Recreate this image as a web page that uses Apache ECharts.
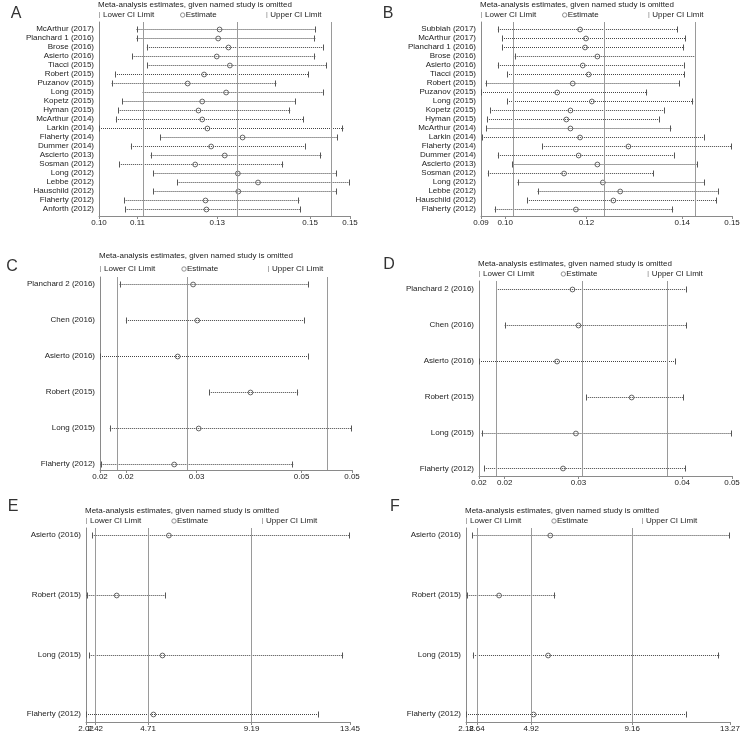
<!DOCTYPE html>
<html><head><meta charset="utf-8">
<script src="https://cdn.jsdelivr.net/npm/echarts@6/dist/echarts.min.js"></script>
<style>html,body{margin:0;padding:0;background:#fff}#c{width:744px;height:735px}</style>
</head><body><div id="c"></div>
<script>
// ---------- Data ----------
const namesA = ['McArthur (2017)','Planchard 1 (2016)','Brose (2016)','Asierto (2016)','Tiacci (2015)','Robert (2015)','Puzanov (2015)','Long (2015)','Kopetz (2015)','Hyman (2015)','McArthur (2014)','Larkin (2014)','Flaherty (2014)','Dummer (2014)','Ascierto (2013)','Sosman (2012)','Long (2012)','Lebbe (2012)','Hauschild (2012)','Flaherty (2012)','Anforth (2012)'];
const lowerA = [0.1085,0.1085,0.1107,0.1076,0.1108,0.1039,0.1032,0.1098,0.1055,0.1046,0.1041,0.1005,0.1136,0.1073,0.1115,0.1048,0.1121,0.1172,0.1121,0.1059,0.1061];
const estA   = [0.1262,0.1259,0.1281,0.1256,0.1284,0.1229,0.1194,0.1276,0.1225,0.1217,0.1225,0.1236,0.1311,0.1244,0.1273,0.1210,0.1301,0.1344,0.1302,0.1232,0.1234];
const upperA = [0.1468,0.1466,0.1485,0.1466,0.1491,0.1452,0.1383,0.1485,0.1424,0.1413,0.1442,0.1526,0.1515,0.1446,0.1479,0.1398,0.1512,0.1540,0.1512,0.1432,0.1435];
const ticksA = [0.1005,0.1087,0.1257,0.1455,0.1540];

const namesB = ['Subbiah (2017)','McArthur (2017)','Planchard 1 (2016)','Brose (2016)','Asierto (2016)','Tiacci (2015)','Robert (2015)','Puzanov (2015)','Long (2015)','Kopetz (2015)','Hyman (2015)','McArthur (2014)','Larkin (2014)','Flaherty (2014)','Dummer (2014)','Ascierto (2013)','Sosman (2012)','Long (2012)','Lebbe (2012)','Hauschild (2012)','Flaherty (2012)'];
const lowerB = [0.0967,0.0976,0.0976,0.1004,0.0967,0.0987,0.0940,0.0930,0.0987,0.0950,0.0943,0.0942,0.0932,0.1064,0.0967,0.0999,0.0945,0.1010,0.1054,0.1031,0.0960];
const estB   = [0.1147,0.1160,0.1158,0.1185,0.1153,0.1166,0.1131,0.1097,0.1173,0.1126,0.1117,0.1126,0.1147,0.1253,0.1144,0.1185,0.1112,0.1197,0.1235,0.1220,0.1138];
const upperB = [0.1361,0.1379,0.1375,0.1401,0.1377,0.1377,0.1366,0.1294,0.1395,0.1333,0.1322,0.1347,0.1421,0.1480,0.1355,0.1406,0.1308,0.1421,0.1452,0.1447,0.1351];
const ticksB = [0.0930,0.0983,0.1161,0.1371,0.1480];

const namesC = ['Planchard 2 (2016)','Chen (2016)','Asierto (2016)','Robert (2015)','Long (2015)','Flaherty (2012)'];
const lowerC = [0.0203,0.0212,0.0175,0.0331,0.0189,0.0176];
const estC   = [0.0308,0.0314,0.0286,0.0390,0.0316,0.0281];
const upperC = [0.0474,0.0468,0.0474,0.0458,0.0535,0.0451];
const ticksC = [0.0175,0.0212,0.0313,0.0463,0.0535];

const namesD = ['Planchard 2 (2016)','Chen (2016)','Asierto (2016)','Robert (2015)','Long (2015)','Flaherty (2012)'];
const lowerD = [0.0200,0.0210,0.0180,0.0305,0.0183,0.0186];
const estD   = [0.0289,0.0296,0.0271,0.0358,0.0293,0.0278];
const upperD = [0.0422,0.0422,0.0410,0.0419,0.0475,0.0421];
const ticksD = [0.0180,0.0210,0.0296,0.0417,0.0475];

const namesE = ['Asierto (2016)','Robert (2015)','Long (2015)','Flaherty (2012)'];
const lowerE = [2.29,2.05,2.16,2.02];
const estE   = [5.61,3.35,5.33,4.94];
const upperE = [13.45,5.47,13.16,12.11];
const ticksE = [2.02,2.42,4.71,9.19,13.45];

const namesF = ['Asierto (2016)','Robert (2015)','Long (2015)','Flaherty (2012)'];
const lowerF = [2.45,2.21,2.47,2.18];
const estF   = [5.72,3.57,5.63,5.02];
const upperF = [13.27,5.93,12.82,11.45];
const ticksF = [2.18,2.64,4.92,9.16,13.27];

const titleText = 'Meta-analysis estimates, given named study is omitted';

// ---------- Layout ----------
const panels = [
  {letter:'A', names:namesA, lower:lowerA, est:estA, upper:upperA, ticks:ticksA,
   left:99, right:350, top:22, bottom:216, yMin:-0.8, yMax:20.8, titleY:5, legendY:15, lx:16, ly:14},
  {letter:'B', names:namesB, lower:lowerB, est:estB, upper:upperB, ticks:ticksB,
   left:481, right:732, top:22, bottom:216, yMin:-0.8, yMax:20.8, titleY:5, legendY:15, lx:388, ly:14},
  {letter:'C', names:namesC, lower:lowerC, est:estC, upper:upperC, ticks:ticksC,
   left:100, right:352, top:277, bottom:470, yMin:-0.2, yMax:5.17, titleY:256, legendY:269, lx:12, ly:267},
  {letter:'D', names:namesD, lower:lowerD, est:estD, upper:upperD, ticks:ticksD,
   left:479, right:732, top:281, bottom:476, yMin:-0.22, yMax:5.21, titleY:264, legendY:274, lx:389, ly:265},
  {letter:'E', names:namesE, lower:lowerE, est:estE, upper:upperE, ticks:ticksE,
   left:86, right:350, top:528, bottom:722, yMin:-0.12, yMax:3.13, titleY:511, legendY:521, lx:13, ly:507},
  {letter:'F', names:namesF, lower:lowerF, est:estF, upper:upperF, ticks:ticksF,
   left:466, right:730, top:528, bottom:722, yMin:-0.12, yMax:3.13, titleY:511, legendY:521, lx:395, ly:507}
];

const FONT = 'Liberation Sans, Arial, Helvetica, sans-serif';
const AX = '#8a8a8a';

function renderItem(params, api) {
  const y = api.value(0);
  const lo = api.coord([api.value(1), y]);
  const es = api.coord([api.value(2), y]);
  const hi = api.coord([api.value(3), y]);
  const yy = Math.round(lo[1]) + 0.5;
  const c = '#555';
  return {type:'group', children:[
    {type:'line', shape:{x1:lo[0], y1:yy, x2:hi[0], y2:yy}, style:{stroke:'#444', lineWidth:1, lineDash:[1,1]}},
    {type:'line', shape:{x1:Math.round(lo[0])+0.5, y1:yy-3, x2:Math.round(lo[0])+0.5, y2:yy+3}, style:{stroke:c, lineWidth:1}},
    {type:'line', shape:{x1:Math.round(hi[0])-0.5, y1:yy-3, x2:Math.round(hi[0])-0.5, y2:yy+3}, style:{stroke:c, lineWidth:1}},
    {type:'circle', shape:{cx:es[0], cy:yy, r:2.4}, style:{fill:'#fff', fillOpacity:0, stroke:c, lineWidth:0.9}}
  ]};
}

const grid = [], xAxis = [], yAxis = [], series = [], graphic = [];
const labelStyle = {fontSize:8, fontFamily:FONT, color:'#222', margin:3, hideOverlap:false, showMinLabel:true, showMaxLabel:true,
                    formatter:v => Number(v).toFixed(2)};
panels.forEach((p, k) => {
  grid.push({left:p.left, top:p.top, width:p.right - p.left, height:p.bottom - p.top, outerBoundsMode:'none'});
  const mainTicks = p.ticks.filter((_, i) => i !== 1);
  xAxis.push({
    type:'value', gridIndex:k, min:p.ticks[0], max:p.ticks[p.ticks.length-1],
    axisLine:{show:true, onZero:false, lineStyle:{color:AX, width:1}},
    axisTick:{show:true, length:3, customValues:mainTicks, lineStyle:{color:AX}},
    axisLabel:Object.assign({customValues:mainTicks}, labelStyle),
    splitLine:{show:false}
  });
  const idx = p.names.map((_, i) => i);
  yAxis.push({
    type:'value', gridIndex:k, inverse:true, min:p.yMin, max:p.yMax,
    axisLine:{show:true, onZero:false, lineStyle:{color:AX, width:1}},
    axisTick:{show:false},
    axisLabel:{customValues:idx, formatter:v => p.names[Math.round(v)] || '', fontSize:8, fontFamily:FONT, color:'#222', margin:5},
    splitLine:{show:false}
  });
  series.push({
    type:'custom', xAxisIndex:k, yAxisIndex:k, renderItem, clip:false,
    encode:{x:[1,2,3], y:0},
    data:p.names.map((n, i) => [i, p.lower[i], p.est[i], p.upper[i]]),
    markLine:{
      silent:true, symbol:'none', animation:false,
      label:{show:false},
      lineStyle:{color:'#9a9a9a', type:'solid', width:1},
      data:[{xAxis:p.ticks[1]}, {xAxis:p.ticks[2]}, {xAxis:p.ticks[3]}]
    },
    z:3
  });
  const w = p.right - p.left;
  graphic.push({type:'text', x:p.lx, y:p.ly, style:{text:p.letter, fill:'#333', fontSize:16, fontFamily:FONT, fontWeight:'normal', align:'center', verticalAlign:'middle'}});
  graphic.push({type:'text', x:p.left - 1, y:p.titleY, style:{text:titleText, fill:'#222', fontSize:8, fontFamily:FONT, align:'left', verticalAlign:'middle'}});
  const ly = p.legendY;
  graphic.push({type:'line', shape:{x1:p.left + 0.5, y1:ly - 3, x2:p.left + 0.5, y2:ly + 3}, style:{stroke:'#aaa', lineWidth:1}});
  graphic.push({type:'text', x:p.left + 4, y:ly, style:{text:'Lower CI Limit', fill:'#222', fontSize:8, fontFamily:FONT, align:'left', verticalAlign:'middle'}});
  graphic.push({type:'circle', shape:{cx:p.left + w/3, cy:ly, r:2.2}, style:{fill:'none', stroke:'#777', lineWidth:0.8}});
  graphic.push({type:'text', x:p.left + w/3 + 3, y:ly, style:{text:'Estimate', fill:'#222', fontSize:8, fontFamily:FONT, align:'left', verticalAlign:'middle'}});
  graphic.push({type:'line', shape:{x1:p.left + 2*w/3 + 0.5, y1:ly - 3, x2:p.left + 2*w/3 + 0.5, y2:ly + 3}, style:{stroke:'#aaa', lineWidth:1}});
  graphic.push({type:'text', x:p.left + 2*w/3 + 4, y:ly, style:{text:'Upper CI Limit', fill:'#222', fontSize:8, fontFamily:FONT, align:'left', verticalAlign:'middle'}});
});
// second x axis per panel: carries only the overall lower-CI tick label, so it is never hidden by overlap
panels.forEach((p, k) => {
  xAxis.push({
    type:'value', gridIndex:k, position:'bottom', min:p.ticks[0], max:p.ticks[p.ticks.length-1],
    axisLine:{show:false, onZero:false},
    axisTick:{show:true, length:3, customValues:[p.ticks[1]], lineStyle:{color:AX}},
    axisLabel:Object.assign({}, labelStyle, {customValues:[p.ticks[1]], showMinLabel:false, showMaxLabel:false}),
    splitLine:{show:false}
  });
});

const chart = echarts.init(document.getElementById('c'), null, {renderer:'canvas'});
chart.setOption({
  animation:false,
  backgroundColor:'#fff',
  grid, xAxis, yAxis, series, graphic
});
</script>
</body></html>
